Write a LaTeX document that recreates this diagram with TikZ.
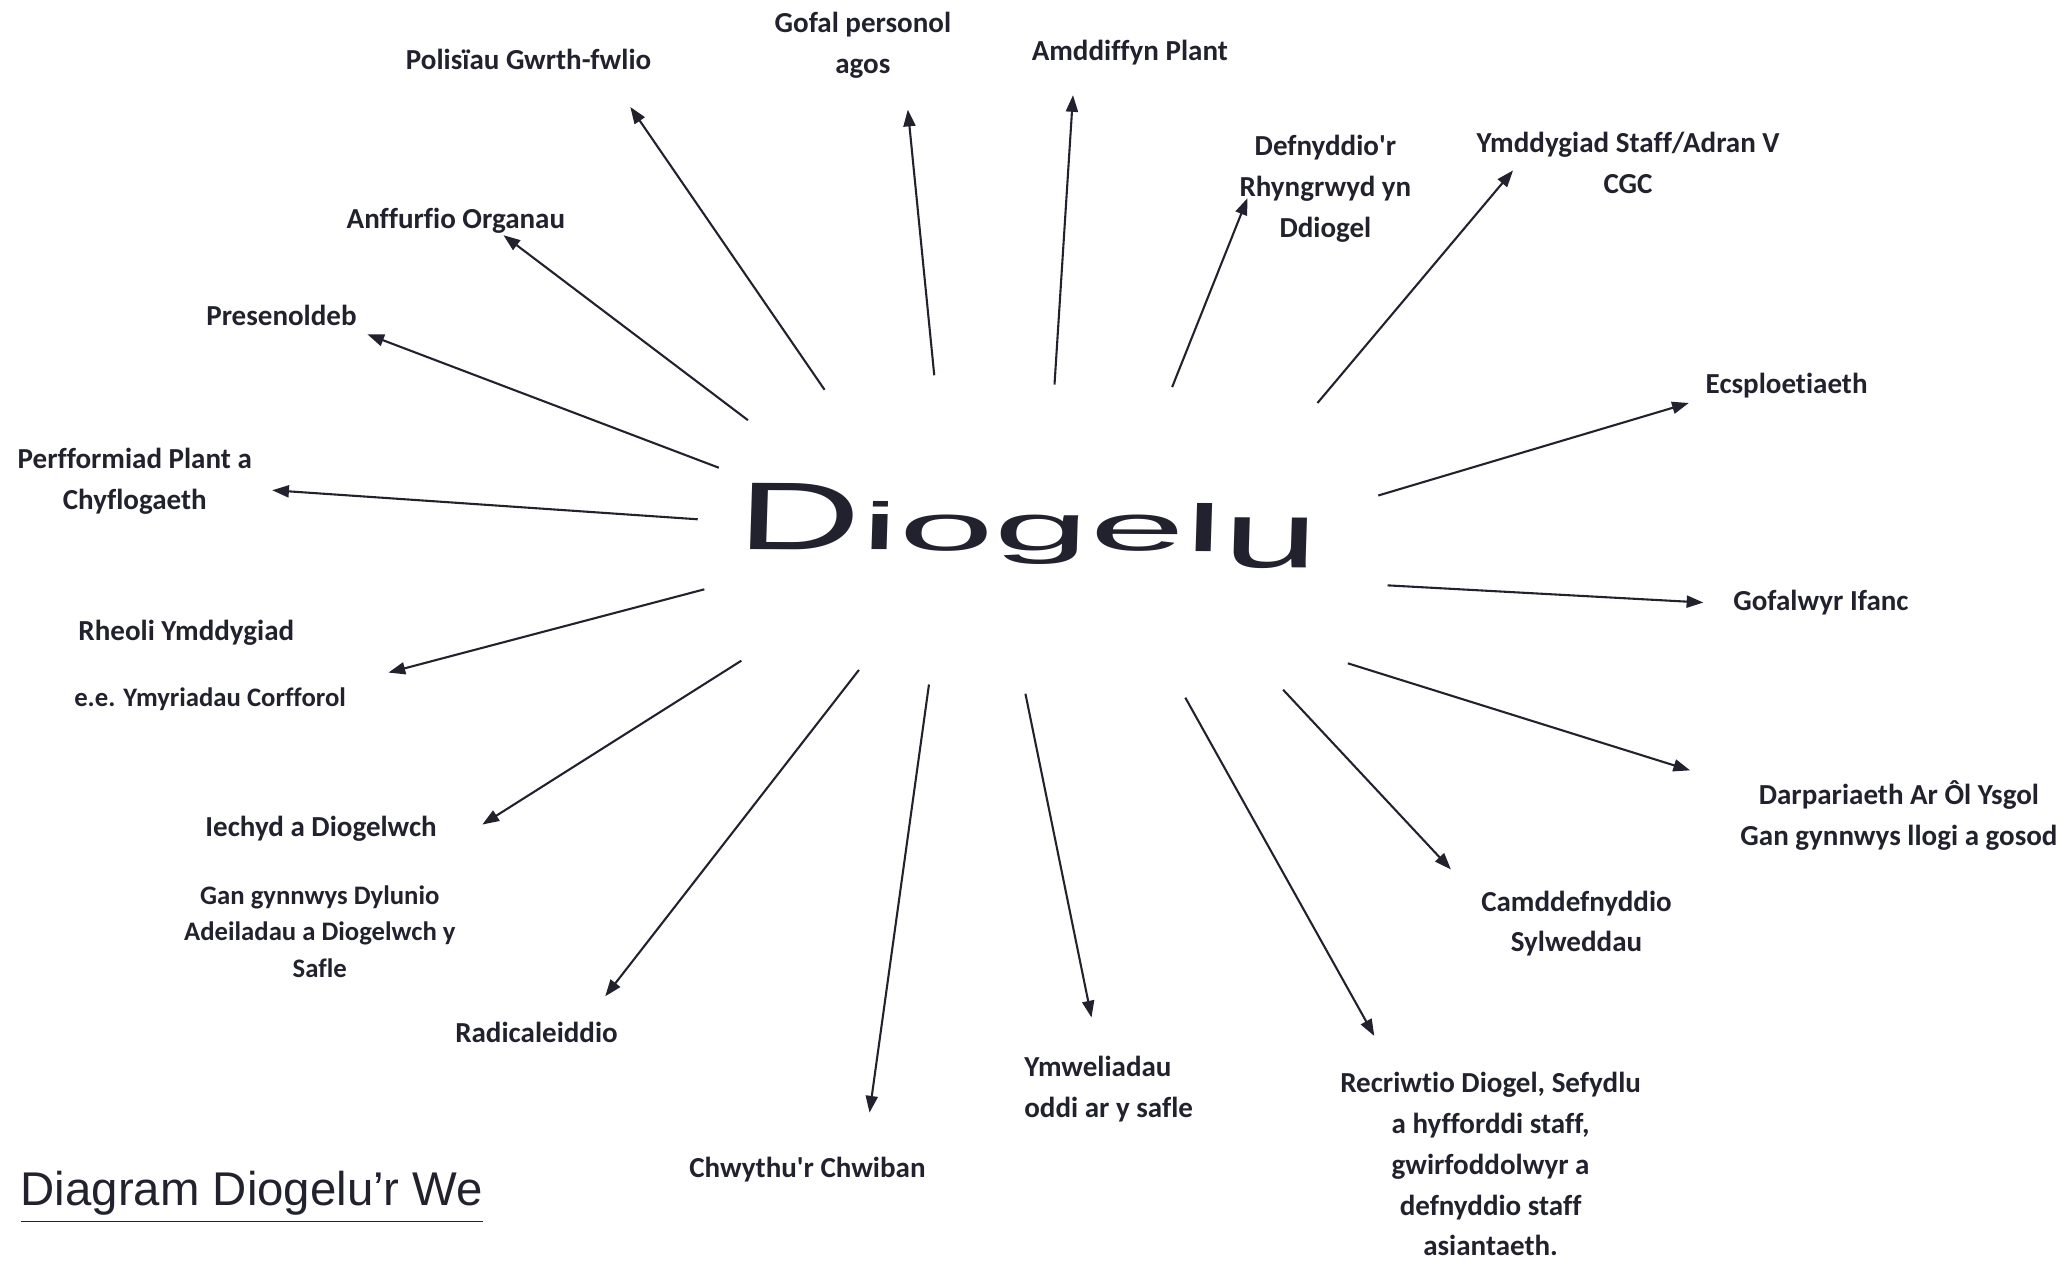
\documentclass[tikz,border=0pt]{standalone}
\usepackage{fontspec}
\usepackage{graphicx}
\setmainfont{Carlito}[Ligatures=NoCommon]
\newfontfamily\arialfont{Liberation Sans}
\definecolor{ink}{RGB}{34,34,46}
\usetikzlibrary{arrows.meta}

\begin{document}
\begin{tikzpicture}[
    topic/.style={align=center, inner sep=0pt, text=ink, font=\bfseries\fontsize{6.25}{8.8}\selectfont},
    subtopic/.style={align=center, inner sep=0pt, text=ink, font=\bfseries\fontsize{5.75}{7.8}\selectfont},
    arrow/.style={-{Triangle[length=3.6pt, width=2.6pt]}, line width=0.45pt, ink}
]
\useasboundingbox (0,0) rectangle (15.68,9.54);

% Centre word
\node[inner sep=0pt, text=ink, font=\arialfont\fontsize{14.3}{16}\selectfont, xscale=2.58, rotate=-0.7] (diogelu) at (7.78,5.56)
    {\scalebox{1}[1.45]{D}iogel\raisebox{-3.4pt}{\scalebox{1}[1.42]{u}}};

% Topics, clockwise from top left
\node[topic] (polisiau) at (4.00,9.09) {Polisïau Gwrth-fwlio};
\node[topic] (gofal) at (6.53,9.20) {Gofal personol\\agos};
\node[topic] (amddiffyn) at (8.55,9.14) {Amddiffyn Plant};
\node[topic] (rhyngrwyd) at (10.03,8.11) {Defnyddio\textquotesingle r\\Rhyngrwyd yn\\Ddiogel};
\node[topic] (staff) at (12.32,8.31) {Ymddygiad Staff/Adran V\\CGC};
\node[topic] (ecsploetiaeth) at (13.52,6.62) {Ecsploetiaeth};
\node[topic] (gofalwyr) at (13.78,4.98) {Gofalwyr Ifanc};
\node[topic] (darpariaeth) at (14.37,3.37) {Darpariaeth Ar Ôl Ysgol\\Gan gynnwys llogi a gosod};
\node[topic] (sylweddau) at (11.93,2.55) {Camddefnyddio\\Sylweddau};
\node[topic] (recriwtio) at (11.28,0.73) {Recriwtio Diogel, Sefydlu\\a hyfforddi staff,\\gwirfoddolwyr a\\defnyddio staff\\asiantaeth.};
\node[topic, align=left] (ymweliadau) at (8.39,1.30) {Ymweliadau\\oddi ar y safle};
\node[topic] (chwiban) at (6.11,0.69) {Chwythu\textquotesingle r Chwiban};
\node[topic] (radical) at (4.06,1.73) {Radicaleiddio};
\node[topic] (iechyd) at (2.43,3.27) {Iechyd a Diogelwch};
\node[subtopic] (dylunio) at (2.42,2.49) {Gan gynnwys Dylunio\\Adeiladau a Diogelwch y\\Safle};
\node[topic] (rheoli) at (1.41,4.75) {Rheoli Ymddygiad};
\node[subtopic] (ymyriadau) at (1.59,4.25) {e.e. Ymyriadau Corfforol};
\node[topic] (perfformiad) at (1.02,5.90) {Perfformiad Plant a\\Chyflogaeth};
\node[topic] (presenoldeb) at (2.13,7.15) {Presenoldeb};
\node[topic] (anffurfio) at (3.45,7.87) {Anffurfio Organau};

% Arrow ends round the centre word
\coordinate (s-polisiau) at (6.24,6.59);      \coordinate (t-polisiau) at (4.77,8.73);
\coordinate (s-gofal) at (7.07,6.70);         \coordinate (t-gofal) at (6.87,8.71);
\coordinate (s-amddiffyn) at (7.98,6.63);     \coordinate (t-amddiffyn) at (8.12,8.82);
\coordinate (s-rhyngrwyd) at (8.87,6.61);     \coordinate (t-rhyngrwyd) at (9.44,8.04);
\coordinate (s-staff) at (9.97,6.49);         \coordinate (t-staff) at (11.45,8.25);
\coordinate (s-ecsploetiaeth) at (10.43,5.79);\coordinate (t-ecsploetiaeth) at (12.78,6.49);
\coordinate (s-gofalwyr) at (10.50,5.11);     \coordinate (t-gofalwyr) at (12.89,4.98);
\coordinate (s-darpariaeth) at (10.20,4.52);  \coordinate (t-darpariaeth) at (12.79,3.71);
\coordinate (s-sylweddau) at (9.71,4.32);     \coordinate (t-sylweddau) at (10.98,2.96);
\coordinate (s-recriwtio) at (8.97,4.26);     \coordinate (t-recriwtio) at (10.40,1.70);
\coordinate (s-ymweliadau) at (7.76,4.29);    \coordinate (t-ymweliadau) at (8.26,1.84);
\coordinate (s-chwiban) at (7.03,4.36);       \coordinate (t-chwiban) at (6.58,1.12);
\coordinate (s-radical) at (6.50,4.47);       \coordinate (t-radical) at (4.58,2.00);
\coordinate (s-iechyd) at (5.61,4.54);        \coordinate (t-iechyd) at (3.65,3.30);
\coordinate (s-rheoli) at (5.33,5.08);        \coordinate (t-rheoli) at (2.94,4.45);
\coordinate (s-perfformiad) at (5.28,5.61);   \coordinate (t-perfformiad) at (2.06,5.83);
\coordinate (s-presenoldeb) at (5.44,6.00);   \coordinate (t-presenoldeb) at (2.78,7.01);
\coordinate (s-anffurfio) at (5.66,6.36);     \coordinate (t-anffurfio) at (3.81,7.76);

% Arrows out to the topics
\draw[arrow] (s-polisiau) -- (t-polisiau);
\draw[arrow] (s-gofal) -- (t-gofal);
\draw[arrow] (s-amddiffyn) -- (t-amddiffyn);
\draw[arrow] (s-rhyngrwyd) -- (t-rhyngrwyd);
\draw[arrow] (s-staff) -- (t-staff);
\draw[arrow] (s-ecsploetiaeth) -- (t-ecsploetiaeth);
\draw[arrow] (s-gofalwyr) -- (t-gofalwyr);
\draw[arrow] (s-darpariaeth) -- (t-darpariaeth);
\draw[arrow] (s-sylweddau) -- (t-sylweddau);
\draw[arrow] (s-recriwtio) -- (t-recriwtio);
\draw[arrow] (s-ymweliadau) -- (t-ymweliadau);
\draw[arrow] (s-chwiban) -- (t-chwiban);
\draw[arrow] (s-radical) -- (t-radical);
\draw[arrow] (s-iechyd) -- (t-iechyd);
\draw[arrow] (s-rheoli) -- (t-rheoli);
\draw[arrow] (s-perfformiad) -- (t-perfformiad);
\draw[arrow] (s-presenoldeb) -- (t-presenoldeb);
\draw[arrow] (s-anffurfio) -- (t-anffurfio);

% Title
\node[anchor=base west, inner sep=0pt, text=ink, font=\arialfont\fontsize{10.2}{12}\selectfont] (title) at (0.15,0.42)
    {\underline{Diagram Diogelu’r We}};

\end{tikzpicture}
\end{document}
